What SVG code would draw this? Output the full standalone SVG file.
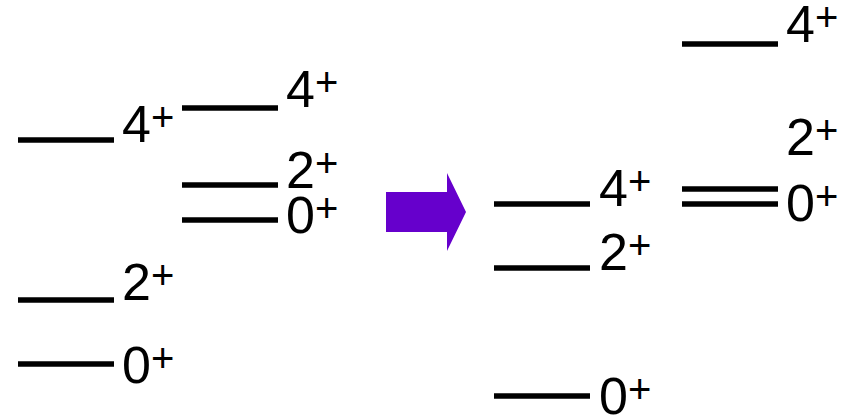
<svg xmlns="http://www.w3.org/2000/svg" width="854" height="415" viewBox="0 0 854 415">
<style>
.lv{stroke:#000;stroke-width:5.5;fill:none}
.lbl{font-family:"Liberation Sans",Arial,sans-serif;font-size:52px;fill:#000}
.sup{font-size:40px}
</style>
<rect width="854" height="415" fill="#fff"/>
<g id="left">
<g id="L4"><line class="lv" x1="18" y1="140" x2="114" y2="140"/><text class="lbl" x="122" y="142">4<tspan class="sup" dy="-11">+</tspan></text></g>
<g id="L2"><line class="lv" x1="18" y1="300" x2="114" y2="300"/><text class="lbl" x="122" y="300">2<tspan class="sup" dy="-11">+</tspan></text></g>
<g id="L0"><line class="lv" x1="18" y1="364" x2="114" y2="364"/><text class="lbl" x="122" y="383">0<tspan class="sup" dy="-11">+</tspan></text></g>
</g>
<g id="mid">
<g id="M4"><line class="lv" x1="182" y1="108" x2="278" y2="108"/><text class="lbl" x="286" y="107">4<tspan class="sup" dy="-11">+</tspan></text></g>
<g id="M2"><line class="lv" x1="182" y1="185" x2="278" y2="185"/><text class="lbl" x="286" y="188">2<tspan class="sup" dy="-11">+</tspan></text></g>
<g id="M0"><line class="lv" x1="182" y1="220" x2="278" y2="220"/><text class="lbl" x="286" y="233">0<tspan class="sup" dy="-11">+</tspan></text></g>
</g>
<g id="connectors">
<polygon points="386,192 447,192 447,173 466,212 447,251 447,232 386,232" fill="#6600CC"/>
</g>
<g id="rmid">
<g id="R4"><line class="lv" x1="494" y1="204" x2="590" y2="204"/><text class="lbl" x="599" y="206">4<tspan class="sup" dy="-11">+</tspan></text></g>
<g id="R2"><line class="lv" x1="494" y1="268" x2="590" y2="268"/><text class="lbl" x="599" y="270">2<tspan class="sup" dy="-11">+</tspan></text></g>
<g id="R0"><line class="lv" x1="494" y1="396" x2="590" y2="396"/><text class="lbl" x="599" y="414">0<tspan class="sup" dy="-11">+</tspan></text></g>
</g>
<g id="right">
<g id="S4"><line class="lv" x1="682" y1="44" x2="778" y2="44"/><text class="lbl" x="786" y="42">4<tspan class="sup" dy="-11">+</tspan></text></g>
<g id="S2"><text class="lbl" x="786" y="155">2<tspan class="sup" dy="-11">+</tspan></text></g>
<g id="S0"><line class="lv" x1="682" y1="189" x2="778" y2="189"/><line class="lv" x1="682" y1="204" x2="778" y2="204"/><text class="lbl" x="786" y="221">0<tspan class="sup" dy="-11">+</tspan></text></g>
</g>
</svg>
